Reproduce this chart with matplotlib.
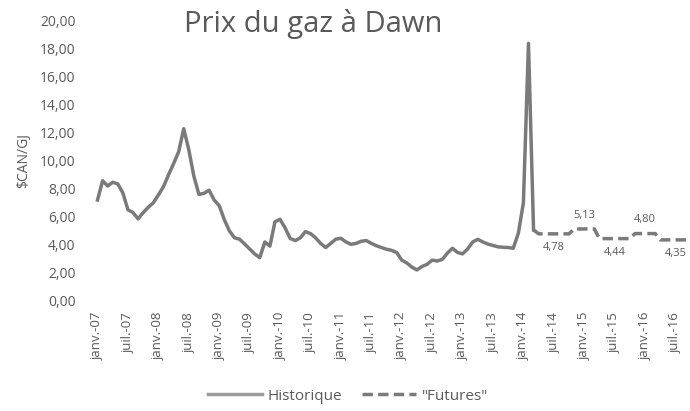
import matplotlib
matplotlib.use("Agg")
import matplotlib.pyplot as plt
from matplotlib.lines import Line2D

# ---- data ----
tick_labels = ["janv.-07", "juil.-07", "janv.-08", "juil.-08", "janv.-09", "juil.-09",
               "janv.-10", "juil.-10", "janv.-11", "juil.-11", "janv.-12", "juil.-12",
               "janv.-13", "juil.-13", "janv.-14", "juil.-14", "janv.-15", "juil.-15",
               "janv.-16", "juil.-16"]

# monthly historical prices, Jan 2007 -> Mar 2014
historique = [7.2, 8.58, 8.2, 8.47, 8.35, 7.7, 6.5, 6.3, 5.85, 6.3,
              6.68, 7.0, 7.56, 8.15, 9.0, 9.8, 10.65, 12.3, 10.8, 8.9,
              7.6, 7.68, 7.9, 7.2, 6.8, 5.8, 5.0, 4.5, 4.4, 4.06,
              3.7, 3.34, 3.08, 4.2, 3.9, 5.65, 5.82, 5.2, 4.45, 4.3,
              4.5, 4.94, 4.8, 4.5, 4.1, 3.8, 4.1, 4.4, 4.46, 4.2,
              4.03, 4.1, 4.25, 4.3, 4.1, 3.93, 3.8, 3.68, 3.6, 3.45,
              2.9, 2.7, 2.4, 2.2, 2.45, 2.6, 2.9, 2.84, 2.95, 3.4,
              3.75, 3.45, 3.35, 3.7, 4.2, 4.39, 4.2, 4.05, 3.95, 3.85,
              3.82, 3.8, 3.75, 4.82, 7.0, 18.4, 5.06]

# seasonal futures strips: (value, number of months), Apr 2014 -> Oct 2016
futures_values = [4.78, 5.13, 4.44, 4.80, 4.35]
futures_months = [7, 5, 7, 5, 7]
futures_label_pos = ["below", "above", "below", "above", "below"]

# ---- build series ----
n_hist = len(historique)
hist_x = list(range(n_hist))
fut_y = []
label_x = []
start = n_hist
for v, m in zip(futures_values, futures_months):
    label_x.append(start + (m - 1) / 2)
    fut_y.extend([v] * m)
    start += m
fut_x = [n_hist - 1] + list(range(n_hist, n_hist + len(fut_y)))
fut_y = [historique[-1]] + fut_y

plt.rcParams['font.family'] = ['Open Sans', 'DejaVu Sans']
W, H = 690, 411
fig = plt.figure(figsize=(W / 100, H / 100), dpi=100)
ax = fig.add_axes([95 / W, (H - 300.7) / H, 595 / W, (300.7 - 21) / H])

col = "#7a7a7a"
txt = "#595959"
ax.plot(hist_x, historique, color=col, lw=2.5, solid_joinstyle="round", clip_on=False)
ax.plot(fut_x, fut_y, color=col, lw=2.5, ls=(0, (3, 1.5)), clip_on=True)

for x, v, pos in zip(label_x, futures_values, futures_label_pos):
    dy = -10 if pos == "below" else 10
    ax.annotate(f"{v:.2f}".replace(".", ","), (x, v), xytext=(0, dy),
                textcoords="offset points", ha="center", va="center",
                fontsize=8, color=txt)

ax.set_xlim(-0.5, 116.86)
ax.set_ylim(0, 20)
yt = list(range(0, 21, 2))
ax.set_yticks(yt)
ax.set_yticklabels([f"{v:.2f}".replace(".", ",") for v in yt], fontsize=10, color=txt)
ax.set_xticks(list(range(0, 6 * len(tick_labels), 6)))
ax.set_xticklabels(tick_labels, rotation=90, fontsize=9.5, color=txt)
ax.tick_params(length=0, pad=8)
ax.tick_params(axis="y", pad=14)
for s in ax.spines.values():
    s.set_visible(False)

ax.set_ylabel("$CAN/GJ", fontsize=10, color=txt, labelpad=6)

fig.text(313 / W, 1 - 24 / H, "Prix du gaz à Dawn", ha="center", va="center",
         fontsize=21, color="#595959")

handles = [Line2D([], [], color="#9a9a9a", lw=2.5),
           Line2D([], [], color=col, lw=2.5, ls=(0, (3, 1.5)))]
fig.legend(handles, ["Historique", '"Futures"'], loc="center",
           bbox_to_anchor=(348 / W, 1 - 396 / H), ncol=2, frameon=False,
           fontsize=11, labelcolor=txt, handlelength=3.5, handletextpad=0.4,
           columnspacing=1.3)

fig.savefig("out.png", dpi=100)
